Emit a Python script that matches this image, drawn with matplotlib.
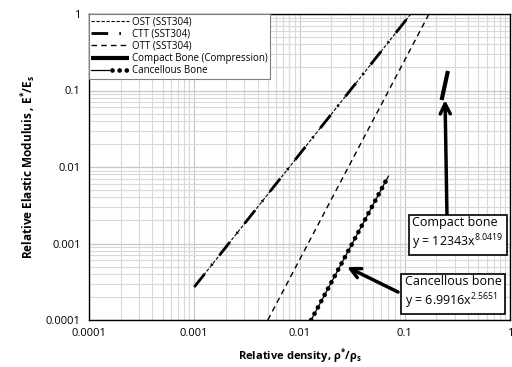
import matplotlib
matplotlib.use("Agg")
import matplotlib.pyplot as plt
from matplotlib.legend_handler import HandlerTuple

plt.rcParams['font.family'] = ['Open Sans', 'DejaVu Sans']
plt.rcParams['mathtext.default'] = 'regular'

# Data
ost_x = [0.001, 0.114]
ost_y = [0.00027, 1.0]
ctt_x = [0.001, 0.114]
ctt_y = [0.00027, 1.0]
ott_x = [0.005, 0.17]
ott_y = [0.0001, 1.0]
compact_x = [0.224, 0.257]
compact_y = [0.075, 0.18]
canc_x = [0.0129, 0.07]
canc_y = [0.0001, 0.0076]
tick_vals = [0.0001, 0.001, 0.01, 0.1, 1]
tick_labels = ['0.0001', '0.001', '0.01', '0.1', '1']

fig = plt.figure(figsize=(5.12, 3.67), dpi=100)
ax = fig.add_axes([89/512, 1-320/367, (510-89)/512, (320-14)/367])
ax.set_xscale('log')
ax.set_yscale('log')
ax.set_xlim(1e-4, 1)
ax.set_ylim(1e-4, 1)

ax.grid(True, which='major', color='#c8c8c8', lw=0.9)
ax.grid(True, which='minor', color='#d9d9d9', lw=0.8)
ax.set_axisbelow(True)

l_ost, = ax.plot(ost_x, ost_y, color='black', lw=0.8, dashes=(3, 1.5), label='OST (SST304)')
l_ctt, = ax.plot(ctt_x, ctt_y, color='black', lw=2.0, dashes=(6, 4, 0.6, 4), label='CTT (SST304)')
l_ott, = ax.plot(ott_x, ott_y, color='black', lw=1.0, dashes=(4, 3), label='OTT (SST304)')
l_cmp, = ax.plot(compact_x, compact_y, color='black', lw=3.0, solid_capstyle='butt', label='Compact Bone (Compression)')
l_cn1, = ax.plot(canc_x, canc_y, color='black', lw=0.9)
l_cn2, = ax.plot(canc_x, canc_y, color='black', lw=3.4, dashes=(0.01, 1.5), dash_capstyle='round')

ax.set_xticks(tick_vals)
ax.set_xticklabels(tick_labels)
ax.set_yticks(tick_vals)
ax.set_yticklabels(tick_labels)
ax.tick_params(which='both', length=0, labelsize=8, pad=6)
ax.minorticks_on()
ax.tick_params(which='minor', length=0)
for s in ax.spines.values():
    s.set_color('black')
    s.set_linewidth(1.0)

ax.set_xlabel('Relative density, ρ$^{*}$/ρ$_s$', fontsize=8, fontweight='bold', labelpad=5)
ax.set_ylabel('Relative Elastic Moduluis , E$^{*}$/E$_s$', fontsize=8.5, fontweight='bold', labelpad=6)

leg = ax.legend([l_ost, l_ctt, l_ott, l_cmp, (l_cn1, l_cn2)],
                ['OST (SST304)', 'CTT (SST304)', 'OTT (SST304)', 'Compact Bone (Compression)', 'Cancellous Bone'],
                handler_map={tuple: HandlerTuple(ndivide=None)},
                loc='upper left', bbox_to_anchor=(0, 1), fontsize=7, frameon=True, fancybox=False,
                framealpha=1, edgecolor='#808080', borderpad=0.25, labelspacing=0.12,
                handlelength=3.9, handletextpad=0.3, borderaxespad=0)
leg.get_frame().set_linewidth(0.8)

box = dict(boxstyle='square,pad=0.3', fc='white', ec='black', lw=1.2)
ax.text(0.321, 0.00133, 'Compact bone\ny = 12343x$^{8.0419}$', ha='center', va='center',
        multialignment='left', fontsize=9, bbox=box, zorder=5)
ax.text(0.287, 0.000225, 'Cancellous bone\ny = 6.9916x$^{2.5651}$', ha='center', va='center',
        multialignment='left', fontsize=9, bbox=box, zorder=5)

ax.annotate('', xy=(0.2415, 0.0751), xytext=(0.252, 0.00222),
            arrowprops=dict(arrowstyle='->', lw=2.5, color='black', mutation_scale=18, shrinkA=0, shrinkB=0))
ax.annotate('', xy=(0.0283, 0.000493), xytext=(0.0863, 0.000232),
            arrowprops=dict(arrowstyle='->', lw=2.5, color='black', mutation_scale=18, shrinkA=0, shrinkB=0))

fig.savefig('out.png', dpi=100)
